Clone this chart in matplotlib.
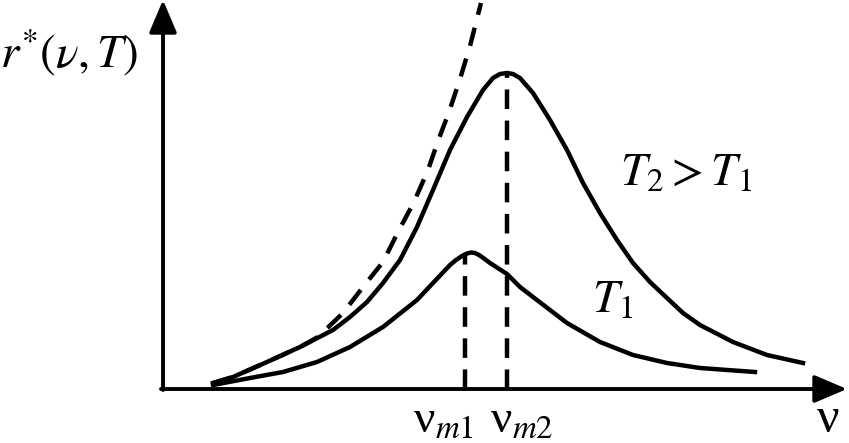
import matplotlib.pyplot as plt
import numpy as np

plt.rcParams['mathtext.fontset'] = 'stix'
plt.rcParams['font.family'] = ['Liberation Serif', 'DejaVu Serif']

# Corbes llegides de la figura (nu, r) -- unitats arbitraries
nu_t2 = [50, 70, 104, 137, 170, 187, 204, 220, 237, 254, 270, 287, 304, 320,
         330, 337, 344, 350, 357, 370, 387, 404, 420, 437, 454, 470, 487,
         504, 520, 537, 570, 604, 640]
r_t2 = [6, 12, 27, 42, 59, 72, 87, 106, 129, 162, 199, 239, 272, 299,
        311, 315, 316, 315, 311, 296, 269, 239, 206, 176, 149, 126, 107,
        91, 76, 64, 47, 34, 26]

nu_t1 = [50, 87, 120, 154, 187, 220, 254, 270, 287, 293, 299, 304, 308,
         312, 316, 321, 327, 344, 357, 370, 404, 437, 470, 504, 537, 592]
r_t1 = [4, 11, 17, 27, 42, 62, 89, 106, 124, 129, 133, 135.5, 136.5,
        136, 134, 130.5, 126, 115, 102, 92, 66, 47, 34, 26, 21, 17]

# Corba de Rayleigh-Jeans (discontinua)
nu_rj = [50, 70, 104, 137, 155, 180, 200, 220, 235, 251, 265, 275, 286,
         297, 307, 318]
r_rj = [6, 12, 27, 42, 52, 76, 102, 127, 157, 187, 219, 248, 277,
        310, 343, 386]

# Maxims
nu_m = [302, 344]
r_m = [136, 316]

fig = plt.figure(figsize=(8.49, 4.43), dpi=100)
ax = fig.add_axes([0, 0, 1, 1])
ax.set_xlim(-163, 686)
ax.set_ylim(-54, 389)
ax.axis('off')

lw = 3.2
ax.plot(nu_t2, r_t2, color='black', lw=lw, solid_joinstyle='round')
ax.plot(nu_t1, r_t1, color='black', lw=lw, solid_joinstyle='round')
ax.plot(nu_rj, r_rj, color='black', lw=lw, linestyle=(0, (4.2, 3.0)))
ax.vlines(nu_m, 0, r_m, color='black', lw=lw, linestyle=(0, (4.4, 2.6)))

# Eixos amb fletxes
arrow = dict(arrowstyle='-|>,head_length=20,head_width=8.5', mutation_scale=1,
             color='black', lw=2.8, shrinkA=0, shrinkB=0)
ax.annotate('', xy=(0, 389), xytext=(0, -1), arrowprops=arrow)
ax.annotate('', xy=(684, 0), xytext=(-2, 0), arrowprops=arrow)

# Etiquetes
ax.text(-163, 337, r'$r^{*}(\nu, T)$', fontsize=34, ha='left', va='center')
ax.text(457, 215, r'$T_2 > T_1$', fontsize=34, ha='left', va='center')
ax.text(429, 88, r'$T_1$', fontsize=34, ha='left', va='center')
ax.text(280, -43, r'ν$_{m1}$', fontsize=34, ha='center', va='baseline')
ax.text(359, -43, r'ν$_{m2}$', fontsize=34, ha='center', va='baseline')
ax.text(665, -43, 'ν', fontsize=36, ha='center', va='baseline')

plt.savefig('out.png', dpi=100, facecolor='white')
